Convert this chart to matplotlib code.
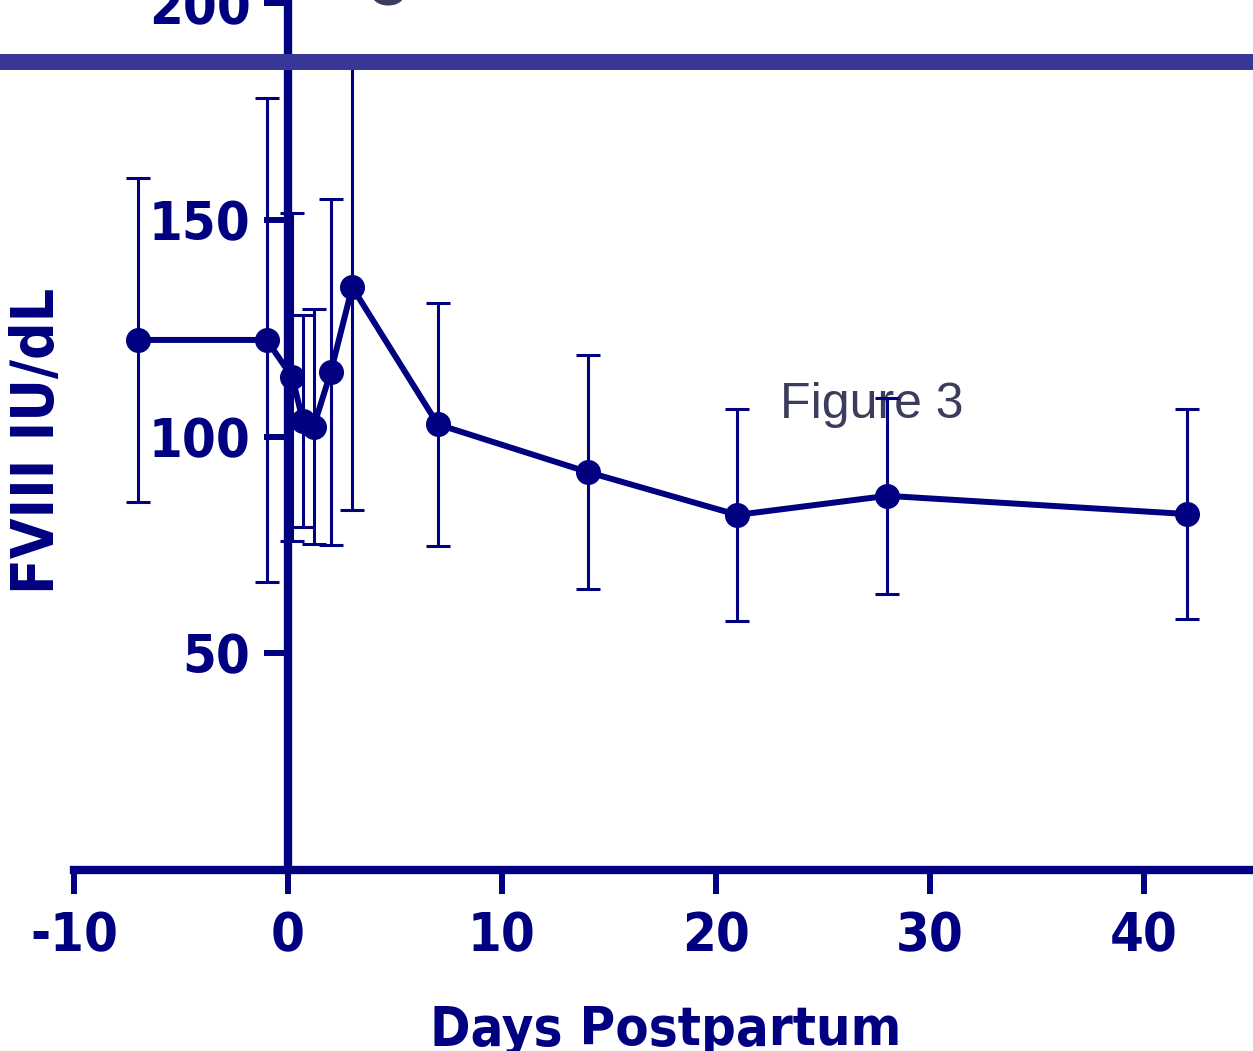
import matplotlib
matplotlib.use("Agg")
import matplotlib.pyplot as plt
from matplotlib import font_manager

plt.rcParams["axes.unicode_minus"] = False

# ---------------- DATA ----------------
days = [-7, -1, 0.2, 0.7, 1.2, 2, 3, 7, 14, 21, 28, 42]
fviii = [122.3, 122.3, 113.7, 103.5, 102.3, 114.9, 134.5, 102.8, 91.8, 81.9, 86.3, 82.1]
err = [37.5, 55.8, 37.9, 24.5, 27.2, 40.0, 51.5, 28.0, 27.0, 24.4, 22.6, 24.3]
ref_level = 186.5

x_ticks = [-10, 0, 10, 20, 30, 40]
y_ticks = [50, 100, 150, 200]

NAVY = "#000080"
COND = font_manager.FontProperties(family="DejaVu Sans", stretch="condensed", weight="bold")

# ---------------- PLOT ----------------
fig = plt.figure(figsize=(12.53, 10.51), dpi=100)
ax = fig.add_axes([0, 0, 1, 1])
ax.set_xlim(-13.46, 45.1)
ax.set_ylim(-41.9, 200.8)

ax.errorbar(days, fviii, yerr=err, color=NAVY, lw=4.3, marker="o", ms=17,
            ecolor=NAVY, elinewidth=2.2, capsize=8.5, capthick=2.2, zorder=3)

# reference line across the top
ax.axhline(ref_level, color="#373797", lw=11.5, zorder=5)

for side in ["top", "right"]:
    ax.spines[side].set_visible(False)
ax.spines["left"].set_position(("data", 0))
ax.spines["bottom"].set_position(("data", 0))
ax.spines["left"].set_bounds(0, 200.8)
ax.spines["bottom"].set_bounds(-10, 45.1)
for side in ["left", "bottom"]:
    ax.spines[side].set_color(NAVY)
    ax.spines[side].set_linewidth(6)
    ax.spines[side].set_zorder(4)

ax.set_xticks(x_ticks)
ax.set_yticks(y_ticks)
ax.tick_params(axis="both", direction="out", length=17, width=4.3, color=NAVY,
               labelcolor=NAVY, pad=12)
ax.tick_params(axis="y", pad=10)
for lab in ax.get_xticklabels() + ax.get_yticklabels():
    lab.set_fontproperties(COND)
    lab.set_fontsize(39)

# axis titles placed as text (axes fill the figure)
ax.text(-11.73, 99, "FVIII IU/dL", rotation=90, ha="center", va="center",
        fontproperties=COND, fontsize=42, color=NAVY)
ax.text(17.66, -40.5, "Days Postpartum", ha="center", va="baseline",
        fontproperties=COND, fontsize=39, color=NAVY)

ax.text(27.3, 104.3, "Figure 3", ha="center", va="baseline", fontsize=36,
        family=["Liberation Sans", "DejaVu Sans"], color="#3c3c5c", zorder=2)
# cropped panel title at the top edge
ax.text(4.6, 199.6, "C", ha="center", va="baseline", fontsize=40, fontweight="bold",
        family=["Liberation Sans", "DejaVu Sans"], color="#3c3c5c")

fig.savefig("out.png", dpi=100)
